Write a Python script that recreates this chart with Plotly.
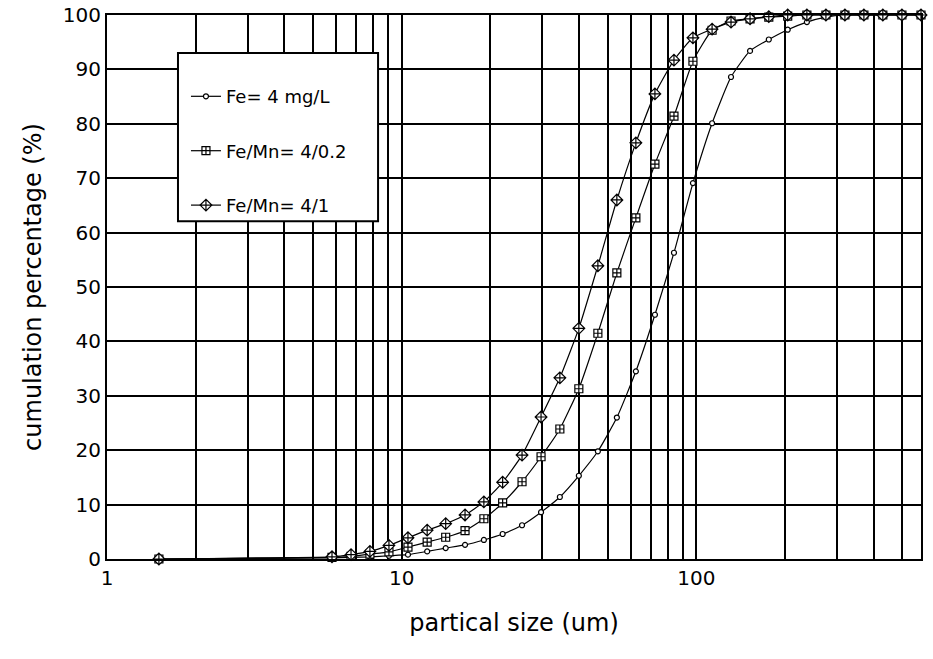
import math
import plotly.graph_objects as go

# particle size bins (um) and cumulative percentages
sizes = [1.5, 5.8, 6.73, 7.8, 9.05, 10.5, 12.2, 14.1, 16.4, 19.0, 22.0, 25.6,
         29.7, 34.4, 39.9, 46.3, 53.7, 62.3, 72.3, 83.9, 97.3, 113, 131, 152,
         176, 204, 237, 275, 319, 370, 429, 498, 578]
fe_4 = [0, 0.2, 0.3, 0.4, 0.6, 0.8, 1.4, 2.0, 2.6, 3.5, 4.6, 6.2, 8.6, 11.4,
        15.3, 19.8, 26.0, 34.5, 44.9, 56.3, 69.1, 80.1, 88.6, 93.4, 95.5,
        97.3, 98.7, 99.6, 100, 100, 100, 100, 100]
fe_mn_02 = [0, 0.3, 0.5, 0.9, 1.3, 2.2, 3.1, 4.0, 5.2, 7.4, 10.3, 14.2, 18.8,
            23.9, 31.3, 41.5, 52.6, 62.7, 72.6, 81.4, 91.5, 97.2, 98.9, 99.3,
            99.6, 99.8, 100, 100, 100, 100, 100, 100, 100]
fe_mn_1 = [0, 0.4, 0.8, 1.4, 2.5, 3.9, 5.3, 6.5, 8.1, 10.5, 14.1, 19.1, 26.1,
           33.3, 42.4, 53.9, 66.0, 76.5, 85.5, 91.7, 95.8, 97.4, 98.7, 99.3,
           99.7, 100, 100, 100, 100, 100, 100, 100, 100]

series_names = ["Fe= 4 mg/L", "Fe/Mn= 4/0.2", "Fe/Mn= 4/1"]
series_values = [fe_4, fe_mn_02, fe_mn_1]
series_symbols = ["circle", "square-cross", "diamond-cross"]
series_sizes = [5, 8, 9]

# log-axis grid: every integer multiple within each decade
x_grid = [1, 2, 3, 4, 5, 6, 7, 8, 9, 10, 20, 30, 40, 50, 60, 70, 80, 90,
          100, 200, 300, 400, 500]
x_labels = {1: "1", 10: "10", 100: "100"}

FONT = "DejaVu Sans"

fig = go.Figure()
for i, (name, vals, sym, msz) in enumerate(
        zip(series_names, series_values, series_symbols, series_sizes)):
    fig.add_trace(go.Scatter(
        x=sizes, y=vals, name=name, mode="lines+markers",
        legendgroup=f"g{i}",
        line=dict(color="black", width=1.2, shape="spline", smoothing=0.5),
        marker=dict(symbol=sym, size=msz, color="white",
                    line=dict(color="black", width=1.2)),
        cliponaxis=False,
    ))

axis_common = dict(
    showgrid=True, gridcolor="black", gridwidth=1.6,
    showline=True, linecolor="black", linewidth=2, mirror=True,
    ticks="", zeroline=False,
    tickfont=dict(family=FONT, size=20, color="black"),
)

fig.update_xaxes(
    type="log", range=[0, math.log10(sizes[-1])],
    tickmode="array", tickvals=x_grid,
    ticktext=[x_labels.get(v, "") for v in x_grid],
    title=dict(text="partical size (um)", standoff=25,
               font=dict(family=FONT, size=24, color="black")),
    automargin=False,
    **axis_common,
)
fig.update_yaxes(
    range=[0, 100], dtick=10, tick0=0,
    title=dict(text="cumulation percentage (%)", standoff=14,
               font=dict(family=FONT, size=24, color="black")),
    automargin=False,
    **axis_common,
)

# legend frame
fig.add_shape(type="rect", xref="paper", yref="paper",
              x0=0.0872, x1=0.333, y0=0.621, y1=0.930,
              fillcolor="white", line=dict(color="black", width=2),
              layer="above")

fig.update_layout(
    width=933, height=659,
    margin=dict(l=107, r=12, t=15, b=100),
    paper_bgcolor="white", plot_bgcolor="white",
    showlegend=True,
    legend=dict(
        x=0.097, y=0.884, xanchor="left", yanchor="top",
        bgcolor="rgba(0,0,0,0)", borderwidth=0,
        font=dict(family=FONT, size=18, color="black"),
        traceorder="grouped", tracegroupgap=28,
        itemwidth=30,
    ),
)

fig.write_html("out.html")
